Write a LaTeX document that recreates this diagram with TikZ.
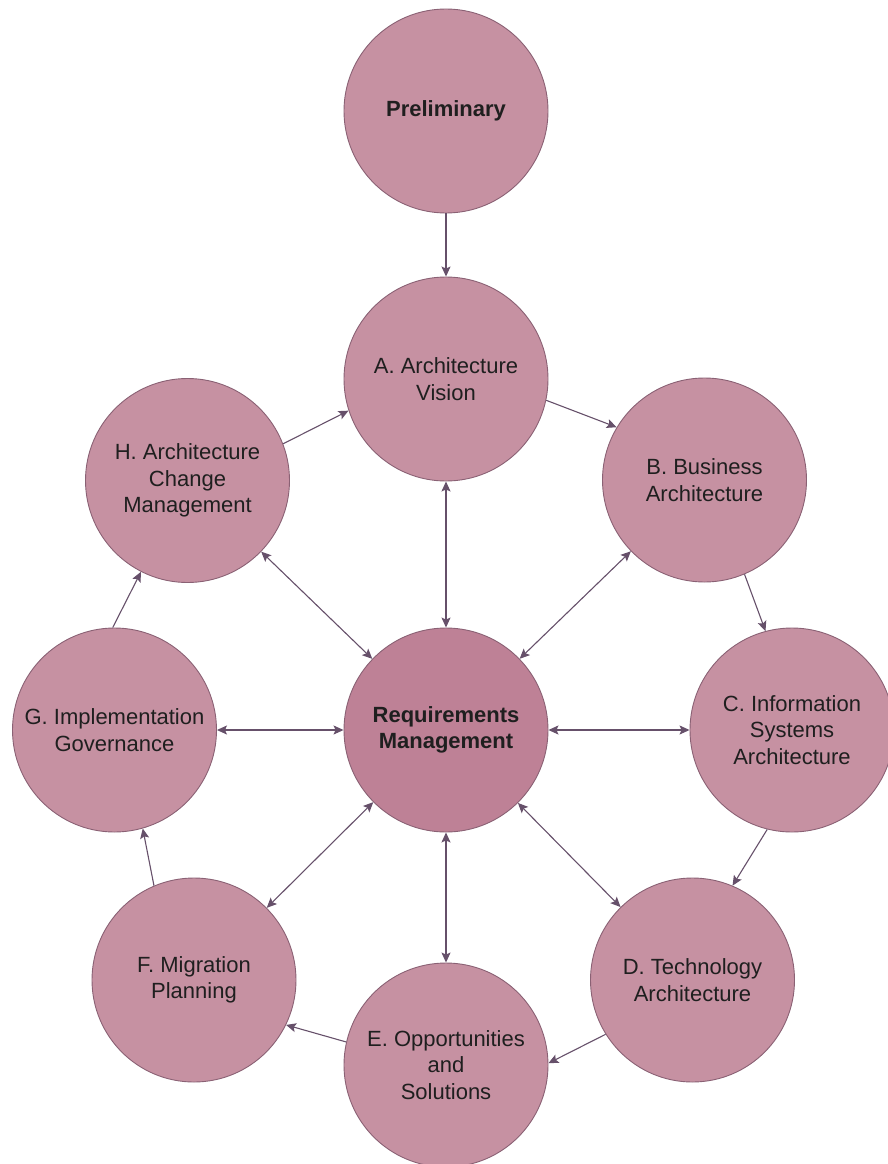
\documentclass[tikz,border=0pt]{standalone}
\usepackage{fontspec}
\setmainfont{Liberation Sans}
\usetikzlibrary{arrows.meta}
\definecolor{phasefill}{HTML}{C691A2}
\definecolor{corefill}{HTML}{BE8196}
\definecolor{rimcol}{HTML}{8A6174}
\definecolor{linkcol}{HTML}{66506A}
\begin{document}
\begin{tikzpicture}[x=1pt,y=-1pt,
  >={Stealth[length=10pt,width=9pt,inset=2pt]},
  phase/.style={circle, minimum size=204pt, inner sep=0pt, fill=phasefill,
    draw=rimcol, line width=0.9pt, align=center, text=black!88,
    font=\fontsize{22}{26.5}\selectfont},
  core/.style={phase, font=\fontsize{22}{26.5}\selectfont\bfseries},
  link/.style={draw=linkcol, line width=1.1pt, ->},
  both/.style={draw=linkcol, line width=1.1pt, <->}]
\useasboundingbox (0,0) rectangle (888,1164);

% phases of the cycle
\node[core] (pre) at (446,111) {Preliminary};
\node[phase] (A) at (446,379) {A. Architecture\\Vision};
\node[phase] (B) at (704.5,480) {B. Business\\Architecture};
\node[phase] (C) at (792,730) {C. Information\\Systems\\Architecture};
\node[phase] (D) at (692.5,980) {D. Technology\\Architecture};
\node[phase] (E) at (446,1065) {E. Opportunities\\and\\Solutions};
\node[phase] (F) at (194,980) {F. Migration\\Planning};
\node[phase] (G) at (114.5,730) {G. Implementation\\Governance};
\node[phase] (H) at (187.5,480.5) {H. Architecture\\Change\\Management};
\node[core, fill=corefill] (R) at (446,730) {Requirements\\Management};

% cycle
\draw[link] (pre) -- (A);
\draw[link] (A.-12.8) -- (B.149.4);
\draw[link] (B.-67) -- (C.105);
\draw[link] (C.-104) -- (D.67.4);
\draw[link] (D.212) -- (E.1);
\draw[link] (E.167) -- (F.-26);
\draw[link] (F.113) -- (G.-74);
\draw[link] (G.91) -- (H.243);
\draw[link] (H.21.4) -- (A.198.4);

% spokes to requirements management
\foreach \p in {A,B,C,D,E,F,G,H}
  \draw[both] (R) -- (\p);
\end{tikzpicture}
\end{document}
